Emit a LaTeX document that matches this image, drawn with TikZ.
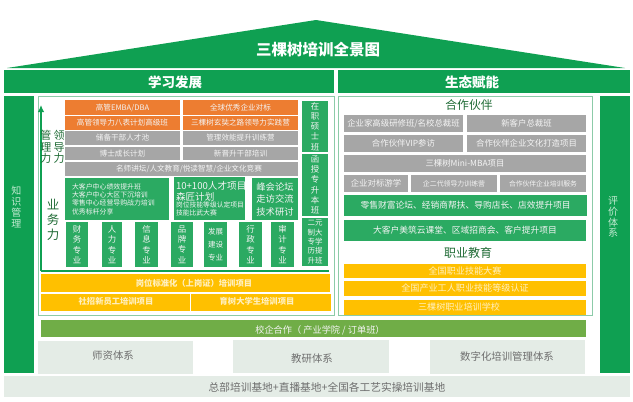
\documentclass[tikz,border=0pt]{standalone}
\usepackage{fontspec}
\usetikzlibrary{arrows.meta}
\setmainfont{Noto Sans CJK SC}
\definecolor{barg}{HTML}{0FA052}
\definecolor{boxg}{HTML}{2BAA62}
\definecolor{frameg}{HTML}{8CCBA8}
\definecolor{orng}{HTML}{ED7D31}
\definecolor{gry}{HTML}{A6A6A6}
\definecolor{yel}{HTML}{FFC000}
\definecolor{oliv}{HTML}{70AD47}
\definecolor{pale}{HTML}{E4ECE6}
\definecolor{softw}{HTML}{F4F4F4}
\definecolor{softy}{HTML}{FFF0C0}
\definecolor{softg}{HTML}{C4EBD3}
\definecolor{darkt}{HTML}{1F6B35}
\definecolor{palet}{HTML}{6E6E6E}
\tikzset{
 x=1pt,y=-1pt,
 every node/.style={inner sep=0pt,outer sep=0pt,align=center},
 blk/.style={fill=#1,draw=none},
 framebox/.style={draw=frameg,line width=0.8pt,fill=none},
 fsz/.style 2 args={font=\fontsize{#1}{#2}\selectfont},
 wt/.style={text=softw,fsz={7.6}{8}},
 wm/.style={text=softw,fsz={8.4}{9}},
 col/.style={text=softw,fsz={8.4}{10.2}},
 yt/.style={text=softy,font=\fontsize{8.3}{9}\selectfont\bfseries},
 yr/.style={text=softy,fsz={9.1}{10}},
 pt/.style={text=palet,fsz={10.4}{11}},
 hd/.style={text=white,font=\fontsize{13.5}{14}\selectfont\bfseries},
}
% \bx{name}{x1}{y1}{x2}{y2}{fill}{text style}{text}
\newcommand{\bx}[8]{\node[blk=#6,minimum width=#4pt-#2pt,minimum height=#5pt-#3pt,#7] (#1) at ({(#2+#4)/2},{(#3+#5)/2}) {#8};}
\begin{document}
\begin{tikzpicture}
\useasboundingbox (0,0) rectangle (633,402);
\fill[white] (0,0) rectangle (633,402);
% roof
\coordinate (roofL) at (7,68);
\coordinate (roofT) at (316,20);
\coordinate (roofR) at (625,68);
\fill[barg] (roofL) -- (roofT) -- (roofR) -- cycle;
\node[text=white,font=\fontsize{15.5}{16}\selectfont\bfseries] (title) at (318,50) {三棵树培训全景图};
% headers
\bx{hL}{4}{70}{334}{93}{barg}{}{}
\bx{hR}{338}{70}{630}{93}{barg}{}{}
\node[hd] (hLt) at (175,82.5) {学习发展};
\node[hd] (hRt) at (472,82.5) {生态赋能};
% side bars
\bx{sL}{4}{96}{34}{373}{barg}{}{}
\bx{sR}{600}{96}{630}{373}{barg}{}{}
\node[text=softg,fsz={10}{10.7}] (sLt) at (16.5,207) {知\\识\\管\\理};
\node[text=softg,fsz={10}{10.7}] (sRt) at (613,217) {评\\价\\体\\系};
% frames
\node[framebox,minimum width=296pt,minimum height=219pt] (fL) at (186,206) {};
\node[framebox,minimum width=254pt,minimum height=219pt] (fR) at (465,206) {};
% arrow & baseline
\coordinate (arB) at (41,271);
\coordinate (arT) at (41,105);
\coordinate (arE) at (329,271);
\draw[barg,line width=1.3pt] (arE) -- (arB);
\draw[barg,line width=1.5pt,-{Latex[length=7pt,width=6.5pt]}] (arB) -- (arT);
% orange / gray
\bx{o1}{65}{100}{180}{115}{orng}{wt}{高管EMBA/DBA}
\bx{o2}{65}{116}{180}{130}{orng}{wt}{高管领导力八表计划高级班}
\bx{o3}{183}{100}{298}{115}{orng}{wt}{全球优秀企业对标}
\bx{o4}{183}{116}{298}{130}{orng}{wt}{三棵树玄奘之路领导力实践营}
\bx{g1}{65}{131}{180}{145}{gry}{wt}{储备干部人才池}
\bx{g2}{65}{147}{180}{160}{gry}{wt}{博士成长计划}
\bx{g3}{183}{131}{298}{145}{gry}{wt}{管理效能提升训练营}
\bx{g4}{183}{147}{298}{160}{gry}{wt}{新晋升干部培训}
\bx{g5}{65}{162}{298}{176}{gry}{}{}
\node[wt] (g5t) at (189,169) {名师讲坛/人文教育/悦读智慧/企业文化竞赛};
% left labels
\node[text=darkt,fsz={11}{11.7}] (mg) at (46,147) {管\\理\\力};
\node[text=darkt,fsz={11}{11.7}] (ld) at (59,147) {领\\导\\力};
\node[text=darkt,fsz={12.5}{15}] (yw) at (53,220) {业\\务\\力};
% green blocks
\bx{b1}{65}{178}{169}{220}{boxg}{text=softw}{\begin{minipage}{90pt}\raggedright\fontsize{6.9}{8.3}\selectfont 大客户中心绩效提升班\\大客户中心大区下沉培训\\零售中心经营导购战力培训\\优秀标杆分享\end{minipage}}
\bx{b2}{174}{177}{245}{220}{boxg}{text=softw}{\begin{minipage}{67pt}\raggedright\fontsize{9.6}{10.5}\selectfont 10+100人才项目\\森匠计划\\[-1pt]\fontsize{6.8}{8}\selectfont 岗位技能等级认定项目\\技能比武大赛\end{minipage}}
\bx{b3}{252}{178}{298}{220}{boxg}{text=softw,fsz={9.3}{12.5}}{峰会论坛\\走访交流\\技术研讨}
% columns
\bx{c1}{66}{222}{88}{267}{boxg}{col}{财\\务\\专\\业}
\bx{c2}{102}{222}{122}{267}{boxg}{col}{人\\力\\专\\业}
\bx{c3}{135}{222}{158}{267}{boxg}{col}{信\\息\\专\\业}
\bx{c4}{171}{222}{193}{267}{boxg}{col}{品\\牌\\专\\业}
\bx{c5}{204}{222}{227}{267}{boxg}{text=softw,fsz={7.5}{13}}{发展\\建设\\专业}
\bx{c6}{239}{222}{262}{267}{boxg}{col}{行\\政\\专\\业}
\bx{c7}{271}{222}{294}{267}{boxg}{col}{审\\计\\专\\业}
\bx{r1}{302}{101}{328}{152}{boxg}{col}{在\\职\\硕\\士\\班}
\bx{r2}{302}{154}{328}{216}{boxg}{col}{函\\授\\专\\升\\本\\班}
\bx{r3}{302}{218}{328}{266}{boxg}{text=softw,fsz={7.5}{9.3}}{二元\\制大\\专学\\历提\\升班}
% yellow
\bx{y1}{41}{274}{330}{292}{yel}{}{}
\bx{y2}{41}{294}{190}{311}{yel}{}{}
\bx{y3}{191}{294}{331}{311}{yel}{}{}
\node[yt] (y1t) at (194,283) {岗位标准化（上岗证）培训项目};
\node[yt] (y2t) at (116,301.5) {社招新员工培训项目};
\node[yt] (y3t) at (257,301.5) {育树大学生培训项目};
% right
\node[text=darkt,fsz={11.8}{13}] (hz) at (469,105) {合作伙伴};
\bx{p1}{344}{115}{463}{132}{gry}{wm}{企业家高级研修班/名校总裁班}
\bx{p2}{467}{115}{586}{132}{gry}{wm}{新客户总裁班}
\bx{p3}{344}{135}{463}{152}{gry}{wm}{合作伙伴VIP参访}
\bx{p4}{467}{135}{586}{152}{gry}{wm}{合作伙伴企业文化打造项目}
\bx{p5}{344}{155}{586}{172}{gry}{wm}{三棵树Mini-MBA项目}
\bx{p6}{344}{175}{408}{192}{gry}{wm}{企业对标游学}
\bx{p7}{411}{175}{497}{192}{gry}{text=softw,fsz={6.9}{7}}{企二代领导力训练营}
\bx{p8}{500}{175}{586}{192}{gry}{text=softw,fsz={6.8}{7}}{合作伙伴企业培训服务}
\bx{q1}{344}{195}{587}{216}{boxg}{text=softw,fsz={8.75}{9}}{零售财富论坛、经销商帮扶、导购店长、店效提升项目}
\bx{q2}{344}{220}{586}{241}{boxg}{text=softw,fsz={8.75}{9}}{大客户美筑云课堂、区域招商会、客户提升项目}
\node[text=darkt,fsz={12}{13}] (zy) at (468,253) {职业教育};
\bx{e1}{344}{264}{586}{278}{yel}{yr}{全国职业技能大赛}
\bx{e2}{344}{281}{586}{296}{yel}{yr}{全国产业工人职业技能等级认证}
\bx{e3}{344}{300}{586}{315}{yel}{}{}
\node[yr] (e3t) at (459,307.5) {三棵树职业培训学校};
% bottom
\bx{xq}{41}{320}{586}{337}{oliv}{}{}
\node[text=softw,fsz={9.2}{10}] (xqt) at (320,330) {校企合作（ 产业学院 / 订单班）};
\bx{t1}{38}{341}{193}{374}{pale}{}{}
\bx{t2}{233}{340}{389}{373}{pale}{}{}
\bx{t3}{430}{340}{585}{374}{pale}{}{}
\node[pt] (t1t) at (113,356) {师资体系};
\node[pt] (t2t) at (312,359) {教研体系};
\node[pt] (t3t) at (507,357) {数字化培训管理体系};
\bx{base}{4}{376}{630}{397}{pale}{}{}
\node[text=palet,fsz={10.7}{11}] (baset) at (327,387) {总部培训基地+直播基地+全国各工艺实操培训基地};
\end{tikzpicture}
\end{document}
